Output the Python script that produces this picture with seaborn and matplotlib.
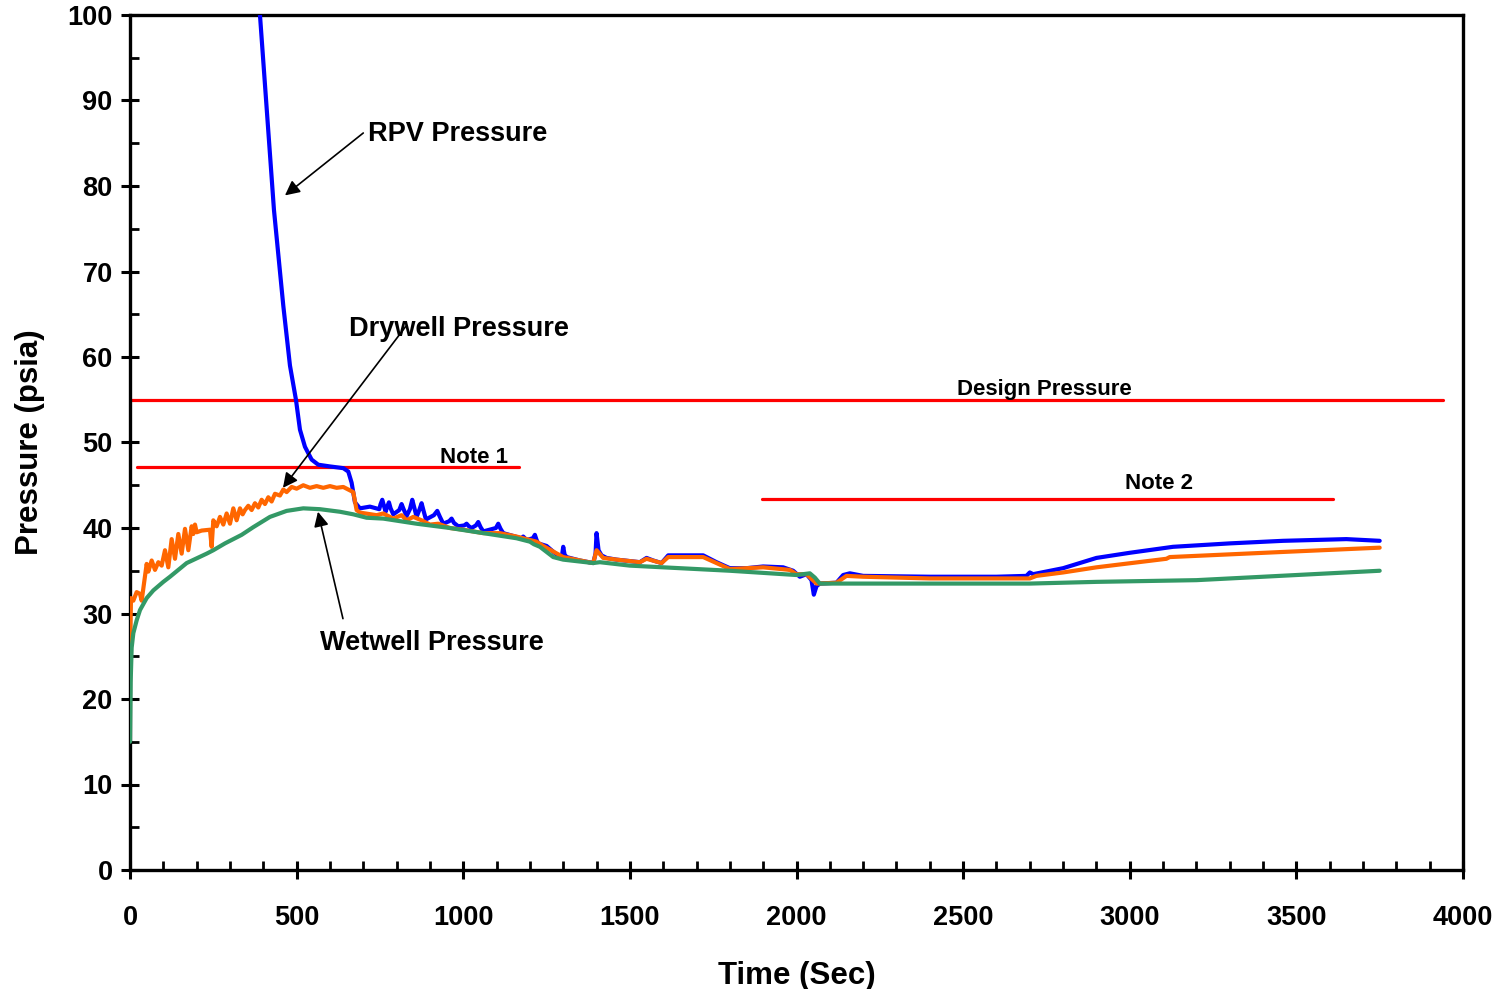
import numpy as np
import pandas as pd
import matplotlib
matplotlib.use("Agg")
import matplotlib.pyplot as plt
import seaborn as sns
from matplotlib.ticker import MultipleLocator

# ---------------- data ----------------
rpv_t = [380, 390, 432, 460, 480, 498, 510, 525, 545, 565, 600, 640, 655, 665, 675, 690,
         720, 748, 752, 757, 762, 767, 772, 777, 782, 790, 808, 815, 821, 830, 840, 847,
         853, 860, 869, 875, 881, 888, 912, 922, 930, 940, 958, 965, 972, 985,
         1003, 1010, 1017, 1025, 1038, 1045, 1052, 1060, 1098, 1105, 1112, 1120, 1174,
         1180, 1185, 1190, 1209, 1215, 1220, 1225, 1250, 1295, 1300, 1304,
         1310, 1350, 1390, 1397, 1400, 1406, 1415, 1430, 1460, 1530, 1550, 1570, 1595,
         1615, 1720, 1760, 1800, 1850, 1900, 1960, 1990, 2010, 2030, 2045, 2052, 2060,
         2070, 2120, 2140, 2160, 2200, 2400, 2600, 2690, 2700, 2710, 2800, 2900, 3000,
         3130, 3300, 3460, 3650, 3750]
rpv_p = [105.0, 100.0, 77.2, 66.0, 59.0, 55.0, 51.5, 49.5, 48.0, 47.4, 47.2, 47.0, 46.6,
         45.3, 43.0, 42.3, 42.5, 42.2, 42.8, 43.3, 42.6, 41.9, 42.5, 43.0, 42.3, 41.6,
         42.1, 42.8, 42.2, 41.4, 42.2, 43.3, 42.4, 41.3, 42.2, 42.9, 42.0, 41.0, 41.5,
         42.0, 41.3, 40.5, 40.8, 41.1, 40.6, 40.2, 40.3, 40.5, 40.2, 40.0, 40.3, 40.7,
         40.1, 39.6, 40.0, 40.5, 39.9, 39.4, 38.8, 39.0, 38.8, 38.6, 38.8, 39.2, 38.6,
         38.2, 37.9, 36.4, 37.8, 36.9, 36.6, 36.2, 35.9, 37.0, 39.4, 37.4, 36.8, 36.5,
         36.3, 36.0, 36.5, 36.2, 35.9, 36.8, 36.8, 36.0, 35.3, 35.3, 35.5, 35.4, 35.0,
         34.3, 34.6, 33.9, 32.2, 33.2, 33.5, 33.6, 34.5, 34.7, 34.4, 34.3, 34.3, 34.4,
         34.8, 34.6, 35.3, 36.5, 37.1, 37.8, 38.2, 38.5, 38.7, 38.5]

dry_t = [0, 3, 10, 20, 30, 35, 50, 55, 65, 75, 85, 95, 105, 115, 125, 135, 145, 155,
         165, 175, 185, 190, 195, 200, 215, 240, 245, 250, 260, 270, 280, 290, 300, 310,
         320, 330, 338, 345, 355, 365, 375, 385, 395, 405, 415, 425, 435, 450, 460, 470,
         485, 500, 520, 540, 560, 580, 600, 620, 640, 660, 670, 680,
         690, 740, 760, 790, 815, 830, 850, 875, 900, 925, 960, 1000, 1060, 1110, 1160,
         1200, 1220, 1240, 1300, 1390, 1400, 1420, 1460, 1530, 1550, 1595, 1615, 1720,
         1800, 1900, 1980, 2000, 2030, 2060, 2120, 2150, 2200, 2400, 2700, 2720, 2800,
         2900, 3110, 3120, 3460, 3750]
dry_p = [26.0, 31.8, 31.5, 32.5, 32.3, 31.5, 35.8, 34.9, 36.2, 35.1, 36.0, 35.6, 37.4,
         35.4, 38.7, 36.4, 39.3, 37.0, 39.9, 37.4, 40.2, 39.3, 40.4, 39.5, 39.7, 39.8,
         37.8, 40.9, 40.2, 41.3, 40.4, 41.7, 40.5, 42.3, 40.9, 42.3, 41.6, 42.1, 42.6,
         42.1, 42.9, 42.4, 43.3, 42.8, 43.6, 43.1, 44.0, 43.8, 44.5, 44.2, 44.8, 44.6,
         45.0, 44.7, 44.9, 44.7, 44.9, 44.7, 44.8, 44.4, 44.2, 42.1, 41.8, 41.5,
         41.7, 41.1, 41.5, 40.9, 41.3, 40.9, 40.4, 40.5, 40.0, 39.8, 39.4, 39.4, 39.0,
         38.6, 38.4, 37.9, 36.6, 35.9, 37.4, 36.5, 36.3, 36.0, 36.4, 35.9, 36.6, 36.6,
         35.2, 35.4, 35.1, 34.6, 34.6, 33.5, 33.6, 34.4, 34.3, 34.1, 34.1, 34.4, 34.8,
         35.4, 36.4, 36.6, 37.2, 37.7]

wet_t = [0, 2, 5, 10, 20, 30, 50, 70, 100, 120, 170, 230, 250, 285, 335, 370, 420, 470,
         520, 570, 630, 670, 710, 760, 860, 960, 1060, 1160, 1200, 1212, 1230, 1250, 1270,
         1300, 1390, 1410, 1500, 1800, 2000, 2040, 2055, 2070, 2200, 2700, 2900, 3200,
         3750]
wet_p = [15.0, 22.0, 26.0, 27.7, 29.2, 30.4, 31.8, 32.7, 33.7, 34.3, 35.9, 37.0, 37.4,
         38.2, 39.2, 40.1, 41.3, 42.0, 42.3, 42.2, 41.9, 41.6, 41.2, 41.1, 40.5, 40.0,
         39.4, 38.8, 38.4, 38.1, 37.8, 37.2, 36.6, 36.3, 35.9, 36.0, 35.6, 35.0, 34.5,
         34.7, 34.2, 33.5, 33.5, 33.5, 33.7, 33.9, 35.0]

# reference lines
ref_vals = [55.0, 47.1, 43.4]
ref_start = [0, 21, 1896]
ref_end = [3939, 1167, 3609]
ref_labels = ["Design Pressure", "Note 1", "Note 2"]
ref_lab_x = [2745, 1032, 3087]
ref_lab_y = [56.2, 48.2, 45.2]

# ---------------- plot ----------------
sns.set_theme(style="white")
plt.rcParams['font.family'] = ['Liberation Sans', 'DejaVu Sans']
plt.rcParams['font.weight'] = 'bold'
plt.rcParams['text.color'] = 'black'
plt.rcParams['axes.labelcolor'] = 'black'
plt.rcParams['xtick.color'] = 'black'
plt.rcParams['ytick.color'] = 'black'

fig = plt.figure(figsize=(15.12, 9.89), dpi=100)
ax = fig.add_axes([130/1512, 1-870/989, (1463-130)/1512, (870-15)/989])

for v, s, e in zip(ref_vals, ref_start, ref_end):
    ax.plot([s, e], [v, v], color='#FF0000', lw=2.3, zorder=2)

df_r = pd.DataFrame({'t': rpv_t, 'p': rpv_p})
df_d = pd.DataFrame({'t': dry_t, 'p': dry_p})
df_w = pd.DataFrame({'t': wet_t, 'p': wet_p})
sns.lineplot(data=df_r, x='t', y='p', ax=ax, color='#0000FF', lw=3, estimator=None, zorder=3)
sns.lineplot(data=df_d, x='t', y='p', ax=ax, color='#FF6600', lw=3, estimator=None, zorder=4)
sns.lineplot(data=df_w, x='t', y='p', ax=ax, color='#339966', lw=3, estimator=None, zorder=5)

for lab, lx, ly in zip(ref_labels, ref_lab_x, ref_lab_y):
    ax.text(lx, ly, lab, ha='center', va='center', fontsize=16, fontweight='bold', color='black')

arrow_kw = dict(arrowstyle='-|>', color='black', lw=1.2, mutation_scale=22, shrinkA=0, shrinkB=0)
ax.text(714, 86.1, "RPV Pressure", ha='left', va='center', fontsize=19.5, fontweight='bold', color='black')
ax.annotate('', xy=(465, 78.9), xytext=(700, 86.2), arrowprops=arrow_kw)
ax.text(657, 63.3, "Drywell Pressure", ha='left', va='center', fontsize=19.5, fontweight='bold', color='black')
ax.annotate('', xy=(459, 44.7), xytext=(828, 63.6), arrowprops=arrow_kw)
ax.text(570, 26.6, "Wetwell Pressure", ha='left', va='center', fontsize=19.5, fontweight='bold', color='black')
ax.annotate('', xy=(564, 41.9), xytext=(639, 29.4), arrowprops=arrow_kw)

ax.set_xlim(0, 4000)
ax.set_ylim(0, 100)
ax.xaxis.set_major_locator(MultipleLocator(500))
ax.xaxis.set_minor_locator(MultipleLocator(100))
ax.yaxis.set_major_locator(MultipleLocator(10))
ax.yaxis.set_minor_locator(MultipleLocator(5))
ax.tick_params(which='major', direction='inout', length=13, width=2.2, labelsize=19.5,
               colors='black', bottom=True, left=True)
ax.tick_params(axis='x', which='major', pad=19)
ax.tick_params(axis='y', which='major', pad=6)
ax.tick_params(which='minor', direction='in', length=6.5, width=2.0, bottom=True, left=True)
for lab in ax.get_xticklabels() + ax.get_yticklabels():
    lab.set_fontweight('bold')
for sp in ax.spines.values():
    sp.set_visible(True)
    sp.set_color('black')
    sp.set_linewidth(2.4)

ax.set_xlabel("Time (Sec)", fontsize=22.5, fontweight='bold', labelpad=21, color='black')
ax.set_ylabel("Pressure (psia)", fontsize=22.5, fontweight='bold', labelpad=16, color='black')
ax.grid(False)

fig.savefig("out.png", dpi=100)
